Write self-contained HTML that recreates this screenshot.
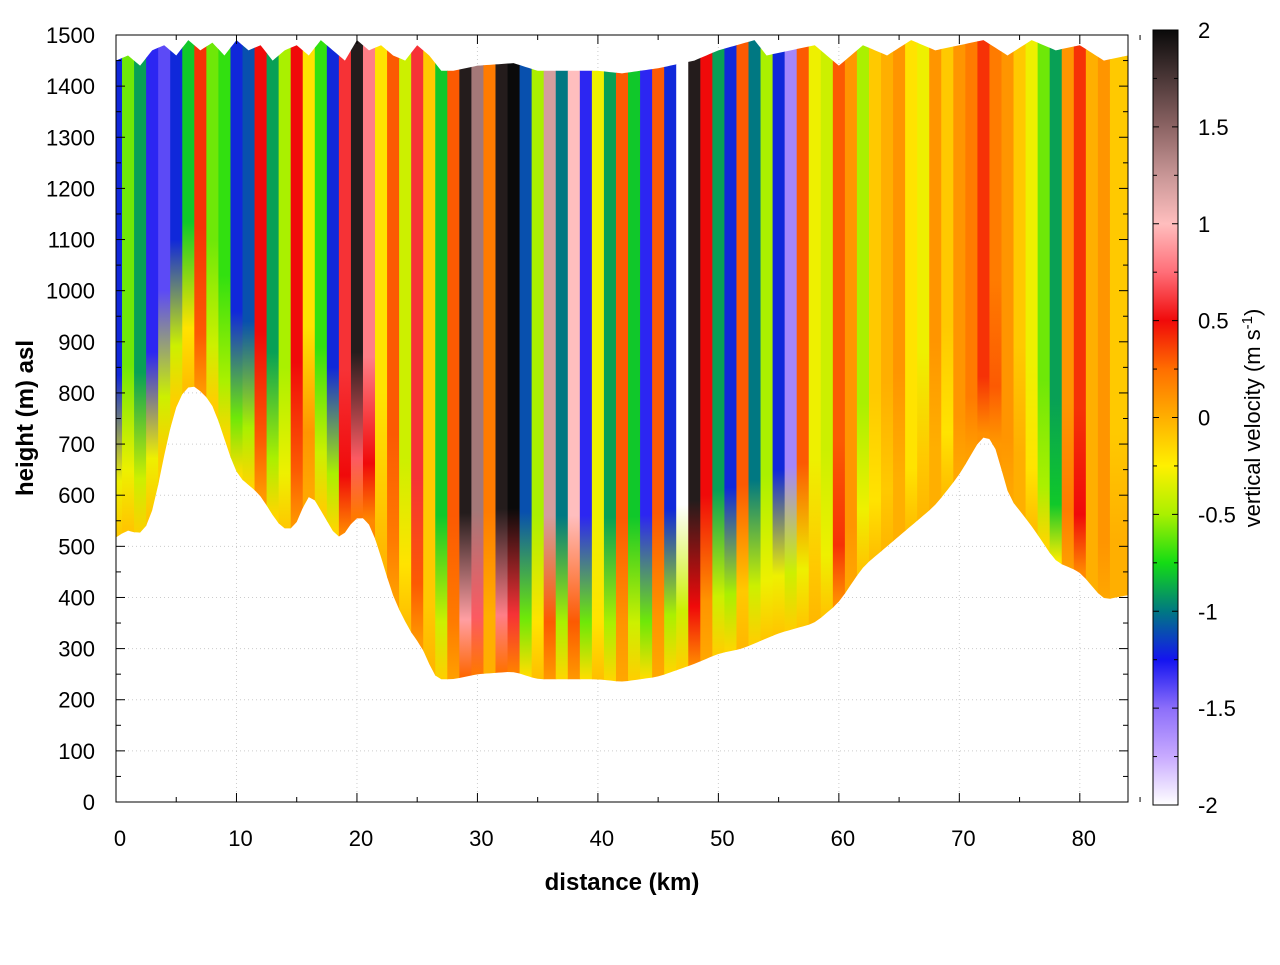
<!DOCTYPE html>
<html><head><meta charset="utf-8"><style>
body{margin:0;background:#fff}
svg text{font-family:"Liberation Sans",sans-serif}
</style></head><body>
<svg id="chart" width="1280" height="960" xmlns="http://www.w3.org/2000/svg">
<defs id="defs"></defs>
<g id="grid"></g>
<g id="field"></g>
<g id="axes"></g>
<g id="cbar"></g>
<text x="622" y="890" font-size="24" font-weight="bold" text-anchor="middle">distance (km)</text>
<text transform="translate(33,418) rotate(-90)" font-size="24" font-weight="bold" text-anchor="middle">height (m) asl</text>
<text transform="translate(1260,418) rotate(-90)" font-size="22" text-anchor="middle">vertical velocity (m s<tspan dy="-8" font-size="15">-1</tspan><tspan dy="8">)</tspan></text>
</svg>
<script>
const distKm=[0,1,2,3,4,5,6,7,8,9,10,11,12,13,14,15,16,17,18,19,20,21,22,23,24,25,26,27,28,29,30,31,32,33,34,35,36,37,38,39,40,41,42,43,44,45,46,47,48,49,50,51,52,53,54,55,56,57,58,59,60,61,62,63,64,65,66,67,68,69,70,71,72,73,74,75,76,77,78,79,80,81,82,83,84];
const velUpper=[-1.2,-0.6,-0.9,-1.3,-1.4,-1.2,-0.8,0.4,-0.6,-0.7,-1.2,-1.1,0.5,-0.9,-0.5,0.5,-0.2,-0.7,-1.2,0.6,1.9,0.8,-0.2,0.3,-0.4,0.6,-0.1,-0.8,0.3,1.9,1.4,0.2,1.9,2.0,-1.1,-0.5,1.2,-1.0,1.0,-1.3,-0.3,-0.9,0.3,-0.8,-1.3,0.3,-1.2,-2.0,1.9,0.5,-0.9,-1.2,0.3,-1.0,-0.5,-1.2,-1.6,0.3,-0.3,-0.4,0.3,0.1,-0.5,-0.1,0.0,0.1,-0.2,-0.3,0.1,-0.1,0.1,0.2,0.4,0.2,0.1,-0.1,-0.3,-0.6,-0.9,0.1,0.4,0.0,0.1,-0.1,-0.1];
const velLower=[-0.3,-0.3,-0.4,-0.3,-0.4,-0.4,-0.2,0.3,-0.4,-0.5,-0.6,-0.5,0.3,-0.5,-0.3,0.3,0.1,-0.4,-0.5,0.5,0.7,0.5,-0.1,0.2,-0.2,0.3,-0.1,-0.4,0.2,0.9,0.7,0.0,0.8,0.6,-0.6,-0.2,0.3,-0.5,0.3,-0.6,-0.2,-0.5,0.1,-0.4,-0.6,0.1,-0.5,-0.4,0.5,0.1,-0.4,-0.5,-0.1,-0.4,-0.3,-0.3,-0.4,-0.3,-0.1,-0.3,0.4,0.1,-0.3,-0.2,-0.1,0.0,-0.2,-0.1,0.0,-0.2,0.1,0.2,0.4,0.3,0.1,0.0,-0.2,-0.5,-0.8,0.2,0.5,0.0,0.1,0.0,0.0];
const surfKm=[0,1,2,3,4,5,6,6.5,8,10,12,13,14,15,16,17,18.5,20,21,22,23,24.5,25.5,26.5,28,30,33,35,40,42,45,48,50,52,55,58,60,62,64,66,68,70,72,73,74,76,78,80,82,84];
const surfH=[515,535,520,560,680,780,815,815,780,640,600,560,530,540,610,570,510,560,550,480,400,330,300,240,240,250,255,240,240,235,245,270,290,300,330,350,390,460,500,540,580,640,720,700,600,540,470,450,395,405];
const topKm=[0,1,2,3,4,5,6,7,8,9,10,11,12,13,14,15,16,17,18,19,20,21,22,23,24,25,26,27,28,30,33,35,40,42,45,48,50,53,54,56,58,60,62,64,66,68,70,72,74,76,78,80,82,84];
const topH=[1450,1460,1440,1470,1480,1460,1490,1470,1485,1460,1490,1470,1480,1450,1470,1480,1460,1490,1470,1450,1490,1470,1480,1460,1450,1480,1460,1430,1430,1440,1445,1430,1430,1425,1435,1450,1470,1490,1460,1470,1480,1440,1480,1460,1490,1470,1480,1490,1460,1490,1470,1480,1450,1460];
const yTicks=[0,100,200,300,400,500,600,700,800,900,1000,1100,1200,1300,1400,1500];
const xTicks=[0,10,20,30,40,50,60,70,80];
const cbTicks=[2,1.5,1,0.5,0,-0.5,-1,-1.5,-2];
const cbTickLabels=["2","1.5","1","0.5","0","-0.5","-1","-1.5","-2"];

const NS="http://www.w3.org/2000/svg";
const X0=116,X1=1128,KMMAX=84,Y0=802,Y1=35;
const xs=k=>X0+k*(X1-X0)/KMMAX;
const ys=h=>Y0-h*(Y0-Y1)/1500;
function mk(t,a,p){const e=document.createElementNS(NS,t);for(const k in a)e.setAttribute(k,a[k]);(p||document.getElementById('chart')).appendChild(e);return e;}
function interp(xa,ya,x){if(x<=xa[0])return ya[0];for(let i=1;i<xa.length;i++){if(x<=xa[i]){const t=(x-xa[i-1])/(xa[i]-xa[i-1]);return ya[i-1]+t*(ya[i]-ya[i-1]);}}return ya[ya.length-1];}
const stops=[[-2,255,255,255],[-1.75,200,170,255],[-1.5,140,110,250],[-1.25,20,20,240],[-1,0,120,130],[-0.75,20,220,20],[-0.5,170,240,0],[-0.25,255,240,0],[0,255,175,0],[0.25,255,110,0],[0.5,240,10,10],[0.75,255,110,120],[1,255,190,190],[1.25,200,150,150],[1.5,140,100,100],[2,10,10,10]];
function col(v){v=Math.max(-2,Math.min(2,v));for(let i=0;i<stops.length-1;i++){const a=stops[i],b=stops[i+1];if(v<=b[0]){const t=(v-a[0])/(b[0]-a[0]);return `rgb(${Math.round(a[1]+t*(b[1]-a[1]))},${Math.round(a[2]+t*(b[2]-a[2]))},${Math.round(a[3]+t*(b[3]-a[3]))})`;}}return 'rgb(10,10,10)';}
const defs=document.getElementById('defs');
const grid=document.getElementById('grid');
yTicks.forEach(h=>{if(h>0&&h<1500){const l=mk('line',{x1:X0,x2:X1,y1:ys(h),y2:ys(h),stroke:'#ccc','stroke-dasharray':'1,3'},grid);}});
xTicks.forEach(k=>{if(k>0){const l=mk('line',{x1:xs(k),x2:xs(k),y1:Y1,y2:Y0,stroke:'#ccc','stroke-dasharray':'1,3'},grid);}});
let pts=[];
for(let k=0;k<=KMMAX;k+=0.25)pts.push(xs(k)+','+ys(interp(topKm,topH,k)));
for(let k=KMMAX;k>=0;k-=0.25){const s=(interp(surfKm,surfH,k-0.5)+2*interp(surfKm,surfH,k)+interp(surfKm,surfH,k+0.5))/4;pts.push(xs(k)+','+ys(s));}
const cp=mk('clipPath',{id:'terrain'},defs);mk('polygon',{points:pts.join(' ')},cp);
const field=document.getElementById('field');field.setAttribute('clip-path','url(#terrain)');
distKm.forEach((k,i)=>{
 const s=interp(surfKm,surfH,k);
 const g=mk('linearGradient',{id:'g'+i,gradientUnits:'userSpaceOnUse',x1:0,y1:ys(s+320),x2:0,y2:ys(s)},defs);
 mk('stop',{offset:'0','stop-color':col(velUpper[i])},g);
 mk('stop',{offset:'0.65','stop-color':col(velLower[i])},g);
 mk('stop',{offset:'1','stop-color':col(velLower[i]*0.3)},g);
 const r=mk('rect',{x:xs(Math.max(0,k-0.5)),y:ys(1500),width:xs(Math.min(KMMAX,k+0.5))-xs(Math.max(0,k-0.5))+0.6,height:ys(200)-ys(1500),fill:'url(#g'+i+')'},field);
 
 
});
const ax=document.getElementById('axes');
mk('rect',{x:X0,y:Y1,width:X1-X0,height:Y0-Y1,fill:'none',stroke:'#000','stroke-width':1},ax);
yTicks.forEach(h=>{const y=ys(h);mk('line',{x1:X0,x2:X0+9,y1:y,y2:y,stroke:'#000'},ax);mk('line',{x1:X1,x2:X1-9,y1:y,y2:y,stroke:'#000'},ax);
 if(h<1500){mk('line',{x1:X0,x2:X0+5,y1:ys(h+50),y2:ys(h+50),stroke:'#000'},ax);mk('line',{x1:X1,x2:X1-5,y1:ys(h+50),y2:ys(h+50),stroke:'#000'},ax);}
 const t=mk('text',{x:95,y:y+8,'font-size':22,'text-anchor':'end'},ax);t.textContent=h;});
xTicks.forEach(k=>{const x=xs(k);mk('line',{x1:x,x2:x,y1:Y0,y2:Y0-9,stroke:'#000'},ax);mk('line',{x1:x,x2:x,y1:Y1,y2:Y1+9,stroke:'#000'},ax);
 mk('line',{x1:xs(k+5),x2:xs(k+5),y1:Y0,y2:Y0-5,stroke:'#000'},ax);mk('line',{x1:xs(k+5),x2:xs(k+5),y1:Y1,y2:Y1+5,stroke:'#000'},ax);
 const t=mk('text',{x:x+4,y:846,'font-size':22,'text-anchor':'middle'},ax);t.textContent=k;});
const cb=document.getElementById('cbar');const CX=1153,CW=25,CT=30,CB=805;
const cg=mk('linearGradient',{id:'cbg',x1:0,y1:1,x2:0,y2:0},defs);
stops.forEach(s=>mk('stop',{offset:(s[0]+2)/4,'stop-color':col(s[0])},cg));
mk('rect',{x:CX,y:CT,width:CW,height:CB-CT,fill:'url(#cbg)',stroke:'#000'},cb);
const cy=v=>CB-(v+2)/4*(CB-CT);
cbTicks.forEach((v,i)=>{const y=cy(v);mk('line',{x1:CX,x2:CX+6,y1:y,y2:y,stroke:'#000'},cb);mk('line',{x1:CX+CW,x2:CX+CW-6,y1:y,y2:y,stroke:'#000'},cb);
 if(i<cbTicks.length-1){const y2=cy(v-0.25);mk('line',{x1:CX,x2:CX+4,y1:y2,y2:y2,stroke:'#000'},cb);mk('line',{x1:CX+CW,x2:CX+CW-4,y1:y2,y2:y2,stroke:'#000'},cb);}
 const t=mk('text',{x:1198,y:y+8,'font-size':22},cb);t.textContent=cbTickLabels[i];});
</script>
</body></html>
